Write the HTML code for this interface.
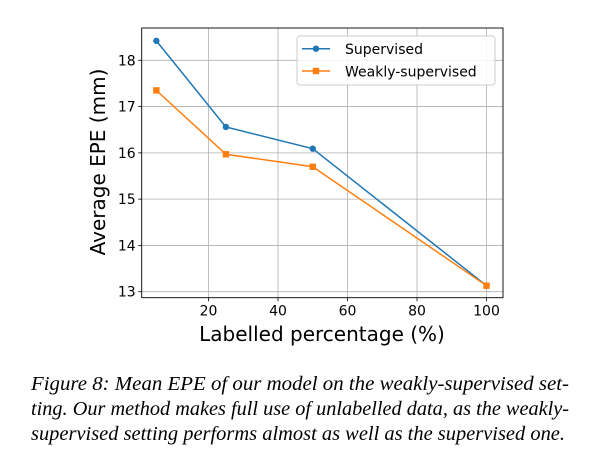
<!DOCTYPE html>
<html><head><meta charset="utf-8"><style>
body{margin:0;background:#fff;width:615px;height:463px;overflow:hidden}
svg{display:block}
.t{font-family:"DejaVu Sans","Liberation Sans",sans-serif;fill:#000}
.c{font-family:"Liberation Serif",serif;font-style:italic;font-size:19.5px;fill:#000}
</style></head><body>
<svg id="chart" width="615" height="463" xmlns="http://www.w3.org/2000/svg">
<g id="grid"></g>
<g id="series"></g>
<g id="axes"></g>
<g>
<rect x="297" y="36" width="198" height="49" rx="3" fill="#fff" fill-opacity="0.85" stroke="#ccc"/>
<g>
<line x1="302" y1="48.7" x2="330" y2="48.7" stroke="#1f77b4" stroke-width="1.5"/><circle cx="316" cy="48.7" r="3.2" fill="#1f77b4"/>
<text class="t" x="345" y="54" font-size="14">Supervised</text></g>
<g>
<line x1="302" y1="71" x2="330" y2="71" stroke="#ff7f0e" stroke-width="1.5"/><rect x="312.8" y="67.8" width="6.4" height="6.4" fill="#ff7f0e"/>
<text class="t" x="345" y="76.5" font-size="14">Weakly-supervised</text></g>
</g>
<text class="t" x="322" y="341" font-size="20" text-anchor="middle">Labelled percentage (%)</text>
<text class="t" transform="translate(105,162) rotate(-90)" font-size="20" text-anchor="middle">Average EPE (mm)</text>
<g>
<text class="c" x="31" y="390" textLength="538" lengthAdjust="spacingAndGlyphs">Figure 8: Mean EPE of our model on the weakly-supervised set-</text>
<text class="c" x="31" y="415" textLength="538" lengthAdjust="spacingAndGlyphs">ting. Our method makes full use of unlabelled data, as the weakly-</text>
<text class="c" x="31" y="440" textLength="534" lengthAdjust="spacingAndGlyphs">supervised setting performs almost as well as the supervised one.</text>
</g>
</svg>
<script>
const xValues=[5,25,50,100];
const supervised=[18.42,16.56,16.09,13.13];
const weakly=[17.35,15.97,15.70,13.13];
const xTicks=[20,40,60,80,100];
const yTicks=[13,14,15,16,17,18];
const NS="http://www.w3.org/2000/svg";
const L=141.7,R=503,T=28,B=297.7;
const xs=v=>208.5+(v-20)*3.475;
const ys=v=>291.7-(v-13)*46.28;
function mk(tag,attrs,parent){const e=document.createElementNS(NS,tag);for(const k in attrs)e.setAttribute(k,attrs[k]);parent.appendChild(e);return e;}
const grid=document.getElementById('grid'),axes=document.getElementById('axes'),series=document.getElementById('series');
xTicks.forEach(v=>{
 const g=mk('line',{x1:xs(v),x2:xs(v),y1:T,y2:B,stroke:'#b0b0b0','stroke-width':0.8},grid);
 
 
 mk('line',{x1:xs(v),x2:xs(v),y1:B,y2:B+3.5,stroke:'#000','stroke-width':0.8},axes);
 const t=mk('text',{x:xs(v),y:B+18,'font-size':14,'text-anchor':'middle',class:'t'},axes);
 t.textContent=v;
 
 
});
yTicks.forEach(v=>{
 const g=mk('line',{x1:L,x2:R,y1:ys(v),y2:ys(v),stroke:'#b0b0b0','stroke-width':0.8},grid);
 
 
 mk('line',{x1:L-3.5,x2:L,y1:ys(v),y2:ys(v),stroke:'#000','stroke-width':0.8},axes);
 const t=mk('text',{x:L-6,y:ys(v)+5,'font-size':14,'text-anchor':'end',class:'t'},axes);
 t.textContent=v;
 
 
});
const fr=mk('rect',{x:L,y:T,width:R-L,height:B-T,fill:'none',stroke:'#000','stroke-width':0.9},axes);


function draw(vals,color,shape,name){
 const p=mk('polyline',{points:vals.map((v,i)=>xs(xValues[i])+','+ys(v)).join(' '),fill:'none',stroke:color,'stroke-width':1.5},series);
 
 
 vals.forEach((v,i)=>{
  let m;
  if(shape==='c')m=mk('circle',{cx:xs(xValues[i]),cy:ys(v),r:3.2,fill:color},series);
  else m=mk('rect',{x:xs(xValues[i])-3.2,y:ys(v)-3.2,width:6.4,height:6.4,fill:color},series);
  
  
 });
}
draw(supervised,'#1f77b4','c','supervised');
draw(weakly,'#ff7f0e','s','weakly-supervised');
</script>
</body></html>
